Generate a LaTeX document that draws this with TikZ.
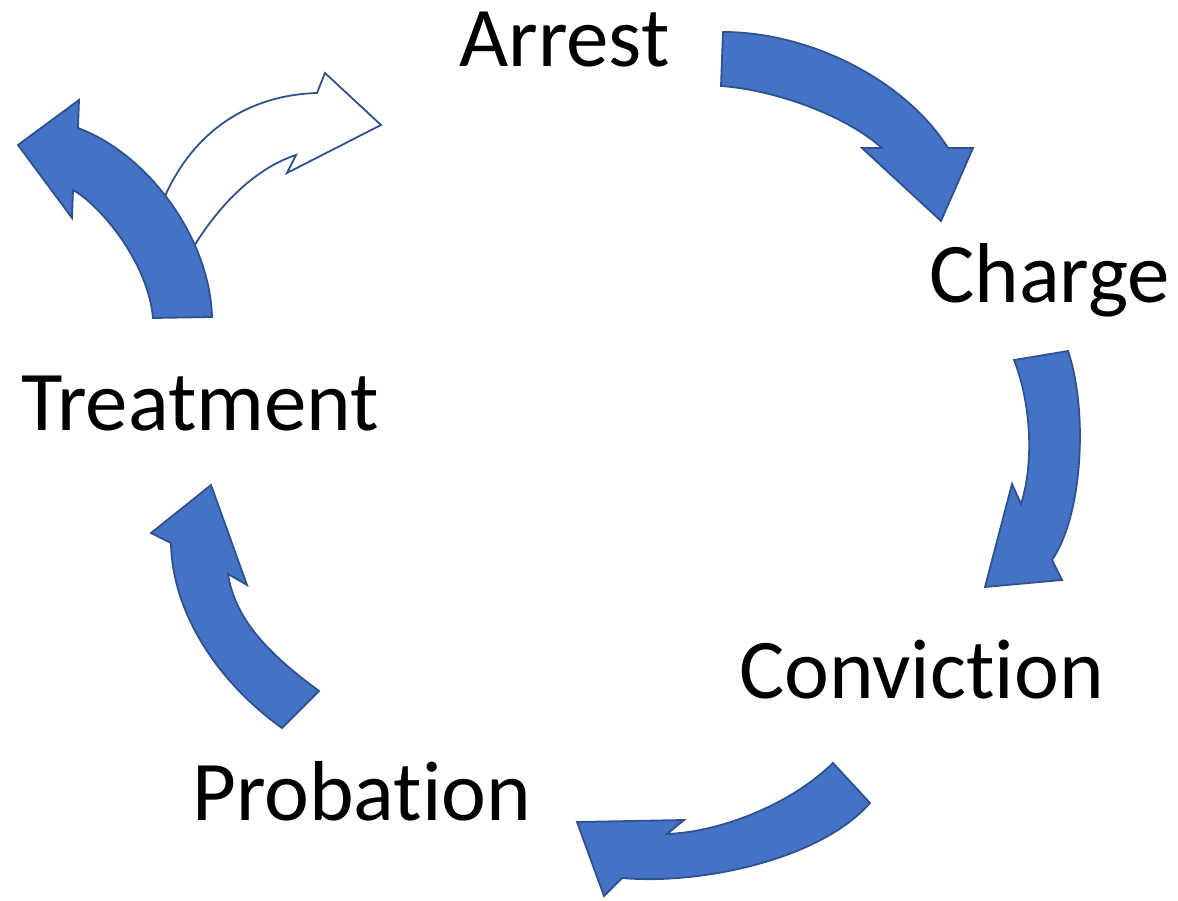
\documentclass[tikz,border=0pt]{standalone}
\usepackage{fontspec}
\setmainfont[Ligatures=NoCommon]{Carlito}
\definecolor{arrowfill}{HTML}{4472C4}
\definecolor{arrowline}{HTML}{2F528F}
\begin{document}
\begin{tikzpicture}[x=1pt,y=-1pt,
  bluearrow/.style={fill=arrowfill,draw=arrowline,line width=1.8pt,line join=miter},
  whitearrow/.style={fill=white,draw=arrowline,line width=1.8pt,line join=miter},
  label/.style={anchor=base west,inner sep=0pt,font=\fontsize{85}{100}\selectfont}]
\useasboundingbox (0,0) rectangle (1178,901);
% labels
\node[label] (arrest) at (459,67) {Arrest};
\node[label] (charge) at (929,302) {Charge};
\node[label] (treatment) at (21,430) {Treatment};
\node[label] (conviction) at (739,698) {Conviction};
\node[label] (probation) at (192,820) {Probation};
% Arrest -> Charge
\draw[bluearrow] (723,32) .. controls (810,32) and (905,80) .. (948,148)
  -- (973,148) -- (941,221) -- (862,148) -- (882,148)
  .. controls (845,115) and (775,90) .. (721,86) -- cycle;
% Charge -> Conviction
\draw[bluearrow] (1014,360) .. controls (1030,400) and (1035,460) .. (1021,504)
  -- (1012,484) -- (985,587) -- (1062,580) -- (1052,560)
  .. controls (1083,515) and (1088,410) .. (1068,351) -- cycle;
% Conviction -> Probation
\draw[bluearrow] (833,763) -- (870,803)
  .. controls (820,860) and (700,885) .. (622,878)
  -- (604,896) -- (577,822) -- (684,820) -- (667,834)
  .. controls (720,832) and (790,805) .. (833,763) -- cycle;
% Probation -> Treatment
\draw[bluearrow] (319,691) -- (282,728)
  .. controls (215,680) and (172,610) .. (171,543)
  -- (151,533) -- (211,485) -- (247,585) -- (228,574)
  .. controls (235,620) and (270,655) .. (319,691) -- cycle;
% white branch arrow (behind)
\draw[whitearrow] (160,208) .. controls (190,130) and (250,95) .. (317,93)
  -- (325,73) -- (381,125) -- (287,173) -- (296,155)
  .. controls (250,170) and (210,215) .. (185,262) -- cycle;
% Treatment -> Arrest
\draw[bluearrow] (153,318) -- (212,317)
  .. controls (210,240) and (150,155) .. (78,128)
  -- (79,100) -- (18,145) -- (72,218) -- (73,190)
  .. controls (100,205) and (148,262) .. (153,318) -- cycle;
\end{tikzpicture}
\end{document}
